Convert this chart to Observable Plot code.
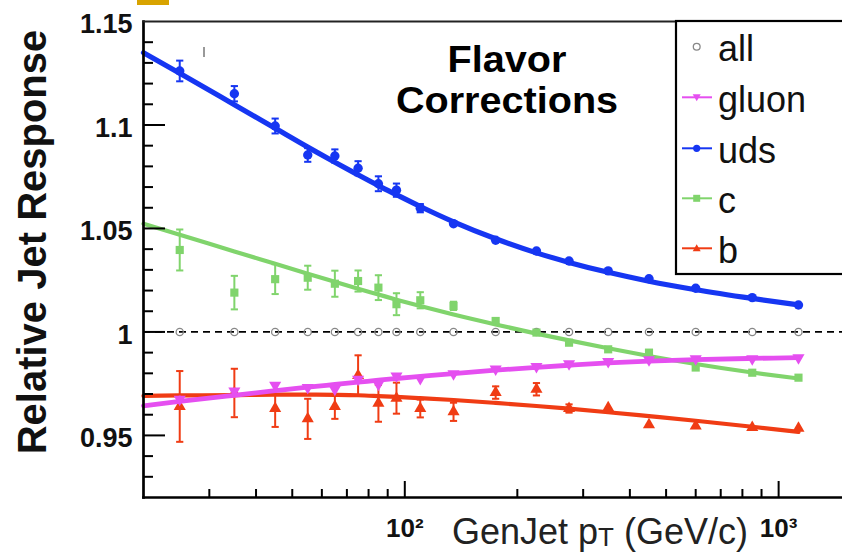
<!DOCTYPE html>
<html><head><meta charset="utf-8">
<script src="https://cdn.jsdelivr.net/npm/d3@7"></script>
<script src="https://cdn.jsdelivr.net/npm/@observablehq/plot@0.6"></script>
<style>
body{margin:0;background:#fff;}
#wrap{position:relative;width:842px;height:553px;overflow:hidden;font-family:"Liberation Sans",Arial,sans-serif;background:#fff;}
#wrap svg{position:absolute;left:0;top:0;}
.ttl{position:absolute;left:357px;width:300px;text-align:center;font-weight:bold;font-size:37px;line-height:41.3px;height:41.3px;color:#000;white-space:nowrap;transform:scaleX(1.07);transform-origin:150px 50%;}
.ylab{position:absolute;left:-218px;top:222px;width:500px;height:40px;line-height:40px;text-align:center;font-weight:bold;font-size:40px;color:#111;transform:rotate(-90deg);}
.xlab{position:absolute;left:452px;top:514px;font-size:36px;line-height:36px;color:#222;white-space:nowrap;}
.xlab sub{font-size:26px;line-height:0;vertical-align:-2px;}
.gold{position:absolute;left:137px;top:0;width:32px;height:5px;background:#d8a300;}
.mark{position:absolute;left:203px;top:47px;width:1.5px;height:10px;background:#999;}
</style></head>
<body><div id="wrap"></div>
<script>
// ---- data ----
const pt = [25, 35, 45, 55, 65, 75, 85, 95, 110, 135, 175, 225, 275, 350, 450, 600, 850, 1130];
const allVal = [1, 1, 1, 1, 1, 1, 1, 1, 1, 1, 1, 1, 1, 1, 1, 1, 1, 1];
const udsVal = [1.1261, 1.1151, 1.0995, 1.0855, 1.0850, 1.0791, 1.0716, 1.0685, 1.0598, 1.0523, 1.0443, 1.0391, 1.0343, 1.0295, 1.0257, 1.0211, 1.0166, 1.0130];
const udsErr = [0.0050, 0.0037, 0.0036, 0.0033, 0.0032, 0.0034, 0.0036, 0.0032, 0.0020, 0.0012, 0.0010, 0.0009, 0.0008, 0.0008, 0.0008, 0.0008, 0.0008, 0.0008];
const cVal = [1.0396, 1.0190, 1.0255, 1.0262, 1.0233, 1.0246, 1.0214, 1.0134, 1.0153, 1.0126, 1.0053, 0.9997, 0.9948, 0.9916, 0.9900, 0.9828, 0.9803, 0.9779];
const cErr = [0.0099, 0.0081, 0.0072, 0.0058, 0.0063, 0.0051, 0.0060, 0.0053, 0.0039, 0.0020, 0.0015, 0.0012, 0.0012, 0.0010, 0.0010, 0.0010, 0.0010, 0.0010];
const gluonVal = [0.9675, 0.9715, 0.9742, 0.9731, 0.9723, 0.9771, 0.9747, 0.9787, 0.9775, 0.9798, 0.9821, 0.9833, 0.9846, 0.9857, 0.9865, 0.9870, 0.9870, 0.9875];
const gluonErr = [0.0015, 0.0012, 0.0012, 0.0012, 0.0012, 0.0012, 0.0010, 0.0010, 0.0008, 0.0008, 0.0006, 0.0006, 0.0006, 0.0006, 0.0006, 0.0006, 0.0006, 0.0006];
const bVal = [0.9640, 0.9705, 0.9630, 0.9580, 0.9640, 0.9790, 0.9655, 0.9680, 0.9630, 0.9614, 0.9707, 0.9723, 0.9630, 0.9634, 0.9551, 0.9546, 0.9538, 0.9535];
const bErr = [0.0171, 0.0117, 0.0089, 0.0097, 0.0060, 0.0097, 0.0089, 0.0075, 0.0043, 0.0044, 0.0030, 0.0030, 0.0020, 0.0015, 0.0015, 0.0015, 0.0015, 0.0015];

// fitted curves
const fitPt = [20, 25, 35, 45, 55, 65, 75, 85, 95, 110, 135, 175, 225, 275, 350, 450, 600, 850, 1130];
const udsFit = [1.1349, 1.1250, 1.1098, 1.0984, 1.0893, 1.0820, 1.0759, 1.0707, 1.0663, 1.0606, 1.0532, 1.0450, 1.0382, 1.0336, 1.0288, 1.0245, 1.0204, 1.0162, 1.0131];
const cFit = [1.0523, 1.0470, 1.0389, 1.0329, 1.0281, 1.0242, 1.0209, 1.0181, 1.0156, 1.0125, 1.0084, 1.0036, 0.9992, 0.9959, 0.9921, 0.9884, 0.9845, 0.9804, 0.9775];
const gluonFit = [0.9643, 0.9664, 0.9694, 0.9716, 0.9733, 0.9746, 0.9757, 0.9767, 0.9775, 0.9785, 0.9799, 0.9815, 0.9829, 0.9839, 0.9850, 0.9859, 0.9866, 0.9872, 0.9876];
const bFit = [0.9691, 0.9693, 0.9695, 0.9697, 0.9697, 0.9696, 0.9694, 0.9690, 0.9686, 0.9680, 0.9671, 0.9657, 0.9642, 0.9629, 0.9612, 0.9593, 0.9571, 0.9542, 0.9517];

const refLine = [1];
const yMajor = [0.95, 1, 1.05, 1.1];
const yMinor = [0.93, 0.94, 0.96, 0.97, 0.98, 0.99, 1.01, 1.02, 1.03, 1.04, 1.06, 1.07, 1.08, 1.09, 1.11, 1.12, 1.13, 1.14];
const yTickLabels = [0.95, 1, 1.05, 1.1, 1.15];
const xMajor = [100, 1000];
const xMinor = [30, 40, 50, 60, 70, 80, 90, 200, 300, 400, 500, 600, 700, 800, 900];
const xTickLabels = ["10\u00b2", "10\u00b3"];

const seriesNames = ["all", "gluon", "uds", "c", "b"];
const seriesColors = ["#888888", "#e54ff0", "#1636f2", "#80d46c", "#f03c14"];
const titleLines = ["Flavor", "Corrections"];

// ---- build tables ----
const tbl = (vals, errs) => pt.map((p, i) => ({pt: p, v: vals[i], e: errs ? errs[i] : 0}));
const fitTbl = (vals) => fitPt.map((p, i) => ({pt: p, v: vals[i]}));
const allT = tbl(allVal), udsT = tbl(udsVal, udsErr), cT = tbl(cVal, cErr), gT = tbl(gluonVal, gluonErr), bT = tbl(bVal, bErr);
const col = Object.fromEntries(seriesNames.map((n, i) => [n, seriesColors[i]]));

const cap = {draw(ctx, size) { const r = Math.sqrt(size / Math.PI); ctx.moveTo(-r, 0); ctx.lineTo(r, 0); }};
const triDown = {draw(ctx, size) {
  const y = -Math.sqrt(size / (Math.sqrt(3) * 3)), s3 = Math.sqrt(3);
  ctx.moveTo(0, -y * 2); ctx.lineTo(-s3 * y, y); ctx.lineTo(s3 * y, y); ctx.closePath();
}};

function seriesMarks(T, F, color, symbol, r, lw) {
  const withCaps = T.filter(d => d.e > 0.0018);
  return [
    Plot.line(F, {x: "pt", y: "v", stroke: color, strokeWidth: lw, curve: "monotone-x"}),
    Plot.ruleX(T, {x: "pt", y1: d => d.v - d.e, y2: d => d.v + d.e, stroke: color, strokeWidth: 2}),
    Plot.dot(withCaps, {x: "pt", y: d => d.v + d.e, symbol: cap, r: 3.6, stroke: color, strokeWidth: 2}),
    Plot.dot(withCaps, {x: "pt", y: d => d.v - d.e, symbol: cap, r: 3.6, stroke: color, strokeWidth: 2}),
    Plot.dot(T, {x: "pt", y: "v", symbol, r, fill: color, stroke: "none"})
  ];
}

const W = 842, H = 553, mL = 143, mT = 21, mB = 56, mR = 0;
const pw = W - mL - mR, ph = H - mT - mB;

const plot = Plot.plot({
  width: W, height: H,
  marginLeft: mL, marginTop: mT, marginBottom: mB, marginRight: mR,
  style: {fontFamily: "'Liberation Sans', Arial, sans-serif", background: "transparent", overflow: "visible"},
  x: {type: "log", domain: [20, 1482]},
  y: {domain: [0.92, 1.15]},
  marks: [
    Plot.ruleY(refLine, {y: d => d, stroke: "#000", strokeWidth: 1.8, strokeDasharray: "7,5"}),
    Plot.dot(allT, {x: "pt", y: "v", r: 3.6, stroke: col.all, strokeWidth: 1.3, fill: "none"}),
    ...seriesMarks(bT, fitTbl(bFit), col.b, "triangle", 4.5, 4.2),
    ...seriesMarks(cT, fitTbl(cFit), col.c, "square", 4.6, 4.2),
    ...seriesMarks(gT, fitTbl(gluonFit), col.gluon, triDown, 4.5, 4.8),
    ...seriesMarks(udsT, fitTbl(udsFit), col.uds, "circle", 4.7, 5.2),
    // ticks (inward)
    Plot.ruleY(yMajor, {y: d => d, insetRight: pw - 22, stroke: "#000", strokeWidth: 2}),
    Plot.ruleY(yMinor, {y: d => d, insetRight: pw - 10, stroke: "#000", strokeWidth: 2}),
    Plot.ruleX(xMajor, {x: d => d, insetTop: ph - 16, stroke: "#000", strokeWidth: 2}),
    Plot.ruleX(xMinor, {x: d => d, insetTop: ph - 8, stroke: "#000", strokeWidth: 2}),
    Plot.frame({anchor: "left", stroke: "#000", strokeWidth: 2.7}),
    Plot.frame({anchor: "bottom", stroke: "#000", strokeWidth: 2.7}),
    Plot.frame({anchor: "top", stroke: "#222", strokeWidth: 2}),
    Plot.axisY(yTickLabels, {tickSize: 0, tickPadding: 11, fontSize: 27, fontWeight: "bold", fill: "#111", dy: 3, label: null, tickFormat: d => String(d)}),
    Plot.axisX(xMajor, {tickSize: 0, tickPadding: 21, fontSize: 26, fontWeight: "bold", fill: "#111", label: null, tickFormat: d => xTickLabels[xMajor.indexOf(d)]})
  ]
});

const wrap = document.getElementById("wrap");
wrap.appendChild(plot);

// legend
const ns = "http://www.w3.org/2000/svg";
const lg = document.createElementNS(ns, "svg");
lg.setAttribute("width", W); lg.setAttribute("height", H);
lg.style.fontFamily = "'Liberation Sans', Arial, sans-serif";
const el = (tag, attrs, parent) => { const e = document.createElementNS(ns, tag); for (const k in attrs) e.setAttribute(k, attrs[k]); (parent || lg).appendChild(e); return e; };
el("rect", {x: 676, y: 21, width: 200, height: 253, fill: "#fff", stroke: "#000", "stroke-width": 2.2});
const rowY = [46.7, 97.3, 148.3, 198.3, 248.3];
seriesNames.forEach((n, i) => {
  const y = rowY[i], c = seriesColors[i], mx = 696.7;
  if (n === "all") {
    el("circle", {cx: mx, cy: y, r: 3.4, fill: "none", stroke: c, "stroke-width": 1.3});
  } else {
    el("line", {x1: 682, x2: 712, y1: y, y2: y, stroke: c, "stroke-width": 2});
    if (n === "uds") el("circle", {cx: mx, cy: y, r: 3.6, fill: c});
    if (n === "c") el("rect", {x: mx - 3.5, y: y - 3.5, width: 7, height: 7, fill: c});
    if (n === "gluon") el("path", {d: `M${mx-4},${y-3} L${mx+4},${y-3} L${mx},${y+4} Z`, fill: c});
    if (n === "b") el("path", {d: `M${mx-4},${y+3} L${mx+4},${y+3} L${mx},${y-4} Z`, fill: c});
  }
  const t = el("text", {x: 718, y: y + 14.5, "font-size": 36, fill: "#111"});
  t.textContent = n;
});
wrap.appendChild(lg);

const tops = [38.5, 80];
titleLines.forEach((s, i) => wrap.insertAdjacentHTML("beforeend", `<div class="ttl" style="top:${tops[i]}px">${s}</div>`));
wrap.insertAdjacentHTML("beforeend",
  '<div class="ylab">Relative Jet Response</div>' +
  '<div class="xlab">GenJet p<sub>T</sub> (GeV/c)</div>' +
  '<div class="gold"></div><div class="mark"></div>');
</script>
</body></html>
